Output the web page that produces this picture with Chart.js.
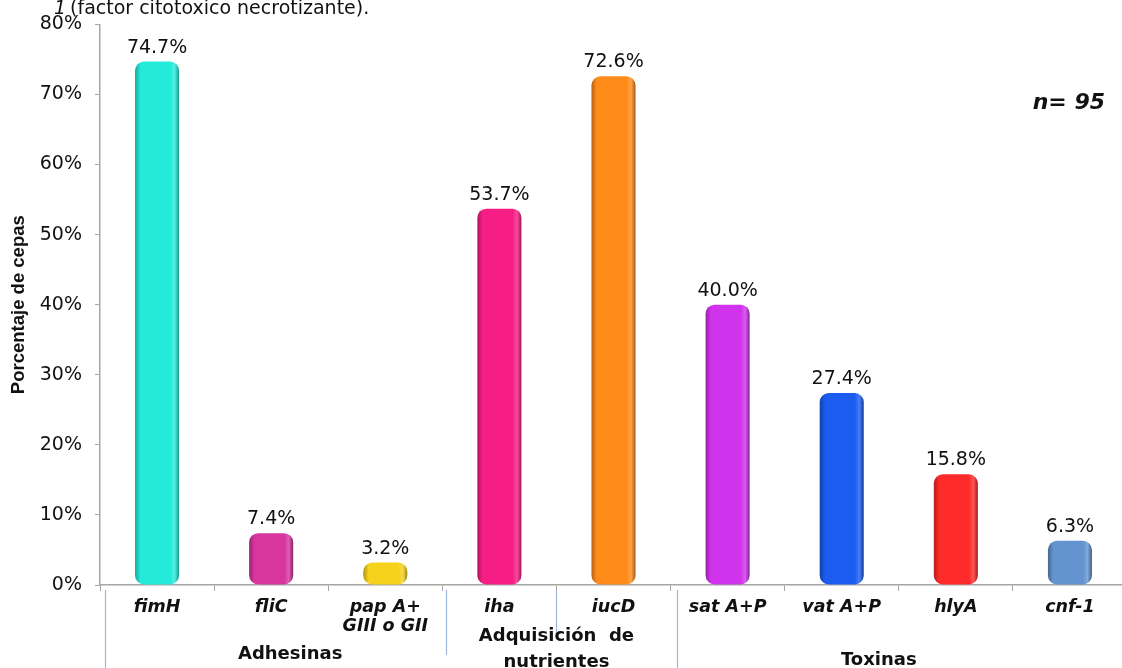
<!DOCTYPE html>
<html>
<head>
<meta charset="utf-8">
<script src="https://cdn.jsdelivr.net/npm/chart.js@4.4.0/dist/chart.umd.min.js"></script>
<style>
  html, body { margin: 0; padding: 0; background: #fff; overflow: hidden; }
  #wrap { width: 1122px; height: 668px; position: relative; overflow: hidden; }
</style>
</head>
<body>
<div id="wrap"><canvas id="myChart" width="1127" height="668"></canvas></div>
<script>
// categories and values
var genes = ['fimH', 'fliC', ['pap A+', 'GIII o GII'], 'iha', 'iucD', 'sat A+P', 'vat A+P', 'hlyA', 'cnf-1'];
var porcentajes = [74.7, 7.4, 3.2, 53.7, 72.6, 40.0, 27.4, 15.8, 6.3];
var colores = ['#24EBD9', '#D8359F', '#F5D21C', '#F61E84', '#FF8C1A', '#D033EB', '#1C5CF0', '#FF2A2A', '#6394D0'];
var yTicks = [0, 10, 20, 30, 40, 50, 60, 70, 80];
// groups: label lines, first index, last index
var grupos = [
    { lines: ['Adhesinas'], from: 0, to: 2 },
    { lines: ['Adquisición  de', 'nutrientes'], from: 3, to: 4 },
    { lines: ['Toxinas'], from: 5, to: 8 }
];

var WIDE = '"DejaVu Sans", Verdana, sans-serif';
var ARIAL = 'Arial, "Liberation Sans", sans-serif';

function shade(hex, amt) {
    var n = parseInt(hex.slice(1), 16);
    var r = (n >> 16) & 255, g = (n >> 8) & 255, b = n & 255;
    function f(c) {
        return Math.max(0, Math.min(255, Math.round(amt < 0 ? c * (1 + amt) : c + (255 - c) * amt)));
    }
    return 'rgb(' + f(r) + ',' + f(g) + ',' + f(b) + ')';
}

// cylinder look: horizontal gradient across each bar
function barFill(context) {
    var chart = context.chart;
    var base = colores[context.dataIndex];
    if (!chart.chartArea || !chart.scales.x) return base;
    var x = chart.scales.x.getPixelForValue(context.dataIndex);
    var w = 44;
    var g = chart.ctx.createLinearGradient(x - w / 2, 0, x + w / 2, 0);
    g.addColorStop(0, shade(base, -0.3));
    g.addColorStop(0.12, base);
    g.addColorStop(0.8, base);
    g.addColorStop(0.9, shade(base, 0.2));
    g.addColorStop(1, shade(base, -0.35));
    return g;
}

var extras = {
    id: 'extras',
    afterDatasetsDraw: function (chart) {
        var ctx = chart.ctx;
        var meta = chart.getDatasetMeta(0);
        ctx.save();
        // value labels above bars
        ctx.fillStyle = '#111';
        ctx.font = '19px ' + WIDE;
        ctx.textAlign = 'center';
        ctx.textBaseline = 'alphabetic';
        meta.data.forEach(function (bar, i) {
            ctx.fillText(porcentajes[i].toFixed(1) + '%', bar.x, bar.y - 9);
        });

        // n= 95
        ctx.font = 'italic bold 22px ' + WIDE;
        ctx.textAlign = 'right';
        ctx.fillText('n= 95', 1105, 109);

        // cut-off caption at the very top
        ctx.textAlign = 'left';
        ctx.font = 'italic 19px ' + WIDE;
        ctx.fillText('1', 54, 14);
        ctx.font = '19px ' + WIDE;
        ctx.fillText(' (factor citotoxico necrotizante).', 64, 14);

        // group separators and group labels
        var xs = chart.scales.x;
        var half = (xs.getPixelForValue(1) - xs.getPixelForValue(0)) / 2;
        ctx.strokeStyle = '#9BB7D9';
        ctx.lineWidth = 1.2;
        var seps = [
            { x: xs.getPixelForValue(0) - half + 5, y2: 668 },
            { x: xs.getPixelForValue(3) - half + 4, y2: 655 },
            { x: xs.getPixelForValue(4) - half + 0, y2: 634 },
            { x: xs.getPixelForValue(5) - half + 6, y2: 668 }
        ];
        seps.forEach(function (s) {
            ctx.beginPath();
            ctx.moveTo(Math.round(s.x) + 0.5, chart.chartArea.bottom + 5);
            ctx.lineTo(Math.round(s.x) + 0.5, s.y2);
            ctx.stroke();
        });

        ctx.fillStyle = '#111';
        ctx.font = 'bold 18px ' + WIDE;
        ctx.textAlign = 'center';
        ctx.textBaseline = 'middle';
        var offs = [19, 0, -20];
        var ys = [[654], [636, 662], [660]];
        grupos.forEach(function (gr, k) {
            var cx = (xs.getPixelForValue(gr.from) + xs.getPixelForValue(gr.to)) / 2 + offs[k];
            gr.lines.forEach(function (t, j) {
                ctx.fillText(t, cx, ys[k][j]);
            });
        });
        ctx.restore();
    }
};

var ctx = document.getElementById('myChart').getContext('2d');
var myChart = new Chart(ctx, {
    type: 'bar',
    data: {
        labels: genes,
        datasets: [{
            data: porcentajes,
            backgroundColor: barFill,
            borderWidth: 0,
            borderRadius: 9,
            borderSkipped: false,
            barPercentage: 0.386,
            categoryPercentage: 1
        }]
    },
    options: {
        responsive: false,
        animation: false,
        layout: { padding: { top: 22, right: 0, left: 0, bottom: 0 } },
        plugins: {
            legend: { display: false },
            tooltip: { enabled: false }
        },
        scales: {
            x: {
                type: 'category',
                offset: true,
                afterFit: function (scale) { scale.height = 83; },
                border: { display: true, color: '#A6A6A6', width: 1.5 },
                grid: {
                    offset: true,
                    drawOnChartArea: false,
                    color: '#A6A6A6',
                    tickLength: 6
                },
                ticks: {
                    color: '#111',
                    padding: 7,
                    maxRotation: 0,
                    autoSkip: false,
                    font: { family: WIDE, size: 17.5, style: 'italic', weight: 'bold', lineHeight: 1.1 }
                }
            },
            y: {
                min: 0,
                max: 80,
                afterFit: function (scale) { scale.width = 100; },
                afterBuildTicks: function (scale) {
                    scale.ticks = yTicks.map(function (v) { return { value: v }; });
                },
                border: { display: true, color: '#A6A6A6', width: 1.5 },
                grid: {
                    drawOnChartArea: false,
                    color: '#A6A6A6',
                    tickLength: 5
                },
                ticks: {
                    color: '#111',
                    padding: 13,
                    callback: function (v) { return v + '%'; },
                    font: { family: WIDE, size: 19 }
                },
                title: {
                    display: true,
                    text: 'Porcentaje de cepas',
                    color: '#111',
                    padding: { top: 8, bottom: 0 },
                    font: { family: ARIAL, size: 18.5, weight: 'bold' }
                }
            }
        }
    },
    plugins: [extras]
});
</script>
</body>
</html>
